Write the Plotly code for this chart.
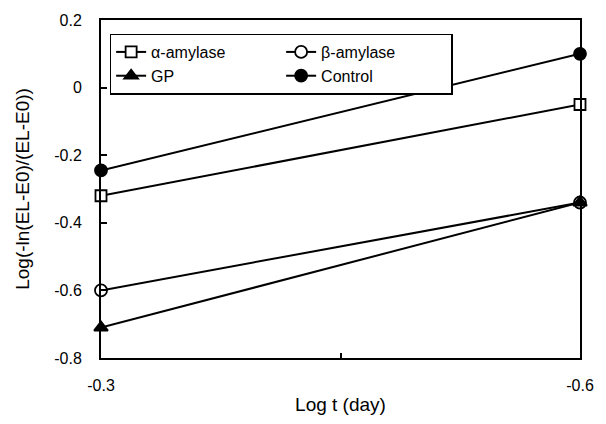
import plotly.graph_objects as go

x_labels = ["-0.3", "-0.6"]
x_pos = [0, 1]
series_names = ["α-amylase", "β-amylase", "GP", "Control"]
alpha_amylase = [-0.32, -0.05]
beta_amylase = [-0.60, -0.34]
gp = [-0.71, -0.34]
control = [-0.245, 0.10]

values = [alpha_amylase, beta_amylase, gp, control]
symbols = ["square", "circle", "triangle-up", "circle"]
fills = ["white", "white", "black", "black"]
sizes = [11, 12, 12, 12]

FONT = "Liberation Sans, Arial, sans-serif"

fig = go.Figure()
for name, vals, sym, fc, sz in zip(series_names, values, symbols, fills, sizes):
    fig.add_trace(go.Scatter(
        x=x_pos, y=vals, name=name, mode="lines+markers",
        line=dict(color="black", width=2),
        marker=dict(symbol=sym, size=sz, color=fc,
                    line=dict(color="black", width=1.8)),
        cliponaxis=False,
    ))

fig.update_layout(
    width=606, height=424,
    margin=dict(l=101, r=16, t=17, b=60),
    paper_bgcolor="white", plot_bgcolor="white",
    font=dict(family=FONT, color="black", size=16),
    showlegend=True,
    legend=dict(
        x=0.018, y=0.96, xanchor="left", yanchor="top",
        orientation="h", entrywidth=125, entrywidthmode="pixels",
        bgcolor="white", bordercolor="black", borderwidth=1.5,
        font=dict(size=16, family=FONT),
        tracegroupgap=0, itemwidth=30,
    ),
    xaxis=dict(
        range=[0, 1], tickvals=[0, 0.5, 1], ticktext=[x_labels[0], "", x_labels[1]],
        ticks="inside", ticklen=5, tickwidth=1.5, tickcolor="black",
        showline=True, linecolor="black", linewidth=2, mirror=True,
        showgrid=False, zeroline=False, ticklabelstandoff=12,
        title=dict(text="Log t (day)", font=dict(size=19, family=FONT), standoff=4),
        tickfont=dict(size=16, family=FONT),
    ),
    yaxis=dict(
        range=[-0.8, 0.2], tickvals=[-0.8, -0.6, -0.4, -0.2, 0, 0.2],
        ticktext=["-0.8", "-0.6", "-0.4", "-0.2", "0", "0.2"],
        ticks="inside", ticklen=6, tickwidth=1.5, tickcolor="black",
        showline=True, linecolor="black", linewidth=2, mirror=True,
        showgrid=False, zeroline=False, ticklabelstandoff=14,
        title=dict(text="Log(-ln(EL-E0)/(EL-E0))", font=dict(size=19, family=FONT), standoff=20),
        tickfont=dict(size=16, family=FONT),
    ),
)

fig.write_html("out.html")
